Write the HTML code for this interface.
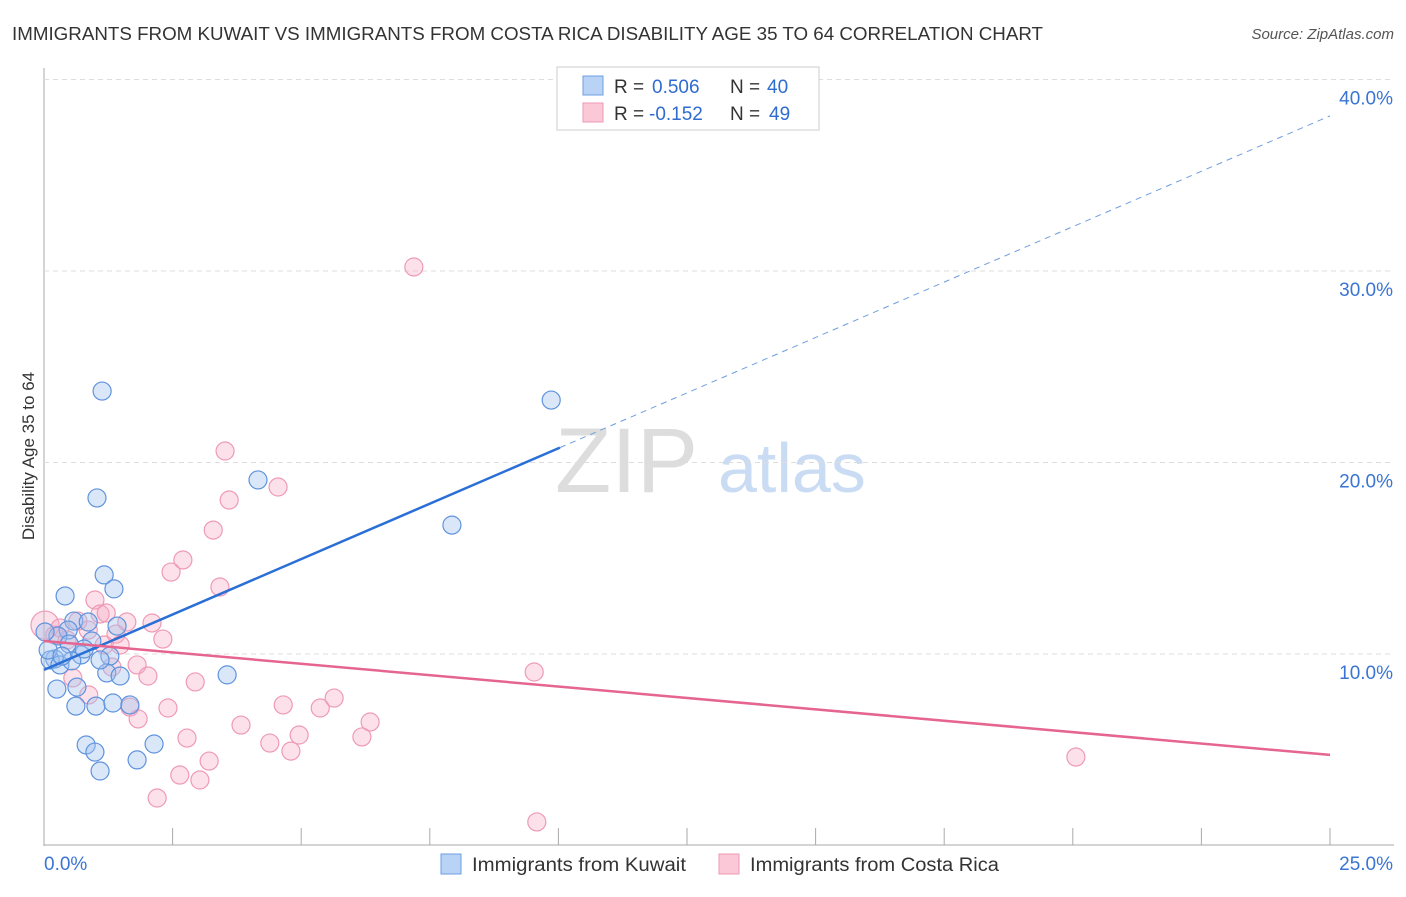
<!DOCTYPE html>
<html><head><meta charset="utf-8"><style>
body{margin:0;background:#fff;font-family:"Liberation Sans",sans-serif}
svg text{font-family:"Liberation Sans",sans-serif}
</style></head><body>
<svg id="c" width="1406" height="892">
<text x="12" y="40" font-size="18" fill="#333" textLength="1031" lengthAdjust="spacingAndGlyphs">IMMIGRANTS FROM KUWAIT VS IMMIGRANTS FROM COSTA RICA DISABILITY AGE 35 TO 64 CORRELATION CHART</text>
<text x="1394" y="39" font-size="15" fill="#555" font-style="italic" text-anchor="end">Source: ZipAtlas.com</text>
<text x="34" y="456" font-size="17" fill="#333" text-anchor="middle" transform="rotate(-90 34 456)">Disability Age 35 to 64</text>
<text x="555" y="492" font-size="92" fill="#ddd" font-family="Liberation Serif">ZIP</text>
<text x="718" y="492" font-size="70" fill="#c9dcf3">atlas</text>
<g id="grid"></g><g id="marks"></g>
<g>
<rect x="557" y="67" width="262" height="63" fill="#fff" stroke="#ccc"/>
<rect x="583" y="76" width="20" height="19" fill="#b8d3f5" stroke="#6d9fe0"/>
<rect x="583" y="103" width="20" height="19" fill="#fac8d7" stroke="#ef97b2"/>
<text y="93" font-size="19" fill="#333"><tspan x="614">R =</tspan><tspan x="652" fill="#2f6ccf">0.506</tspan><tspan x="730">N =</tspan><tspan x="767" fill="#2f6ccf">40</tspan></text>
<text y="120" font-size="19" fill="#333"><tspan x="614">R =</tspan><tspan x="649" fill="#2f6ccf">-0.152</tspan><tspan x="730">N =</tspan><tspan x="769" fill="#2f6ccf">49</tspan></text>
</g>
<g>
<rect x="441" y="854" width="20" height="20" fill="#b8d3f5" stroke="#6d9fe0"/>
<text x="472" y="871" font-size="19" fill="#333" textLength="214" lengthAdjust="spacingAndGlyphs">Immigrants from Kuwait</text>
<rect x="719" y="854" width="20" height="20" fill="#fac8d7" stroke="#ef97b2"/>
<text x="750" y="871" font-size="19" fill="#333" textLength="249" lengthAdjust="spacingAndGlyphs">Immigrants from Costa Rica</text>
</g>
</svg>
<script>
const yTicks=[10,20,30,40];
const xTickLabels=["0.0%","25.0%"];
const blueX=[1.13,1.03,4.16,9.86,7.93,1.17,1.36,0.41,3.56,0.58,0.86,1.42,0.47,0.27,0.49,0.93,1.28,0.72,0.21,0.12,0.31,0.54,1.22,1.48,0.25,0.64,0.62,1.01,1.34,1.67,0.82,0.99,1.09,1.81,2.14,0.02,0.78,0.08,0.35,1.09];
const blueY=[23.73,18.15,19.09,23.26,16.73,14.13,13.40,13.03,8.91,11.72,11.67,11.46,11.25,10.94,10.52,10.68,9.89,9.95,9.74,9.69,9.43,9.64,9.01,8.85,8.17,8.27,7.28,7.28,7.44,7.34,5.25,4.88,3.89,4.47,5.30,11.15,10.26,10.21,9.89,9.69];
const pinkX=[7.19,3.52,4.55,3.60,3.29,2.70,2.47,3.42,0.99,1.09,1.21,1.61,2.10,0.66,0.86,1.40,1.48,2.31,0.02,0.21,0.45,1.81,1.32,2.02,2.94,0.56,0.87,1.67,1.83,2.41,3.83,4.65,5.37,5.64,6.34,6.18,4.96,4.39,4.80,3.21,2.64,3.03,2.20,9.53,20.06,9.58,2.78,0.31,1.17];
const pinkY=[30.21,20.60,18.72,18.04,16.47,14.91,14.28,13.50,12.82,12.09,12.14,11.67,11.62,11.72,11.25,11.04,10.47,10.78,11.51,10.99,10.73,9.43,9.32,8.85,8.54,8.75,7.86,7.23,6.61,7.18,6.29,7.34,7.18,7.70,6.45,5.67,5.77,5.35,4.93,4.41,3.68,3.42,2.48,9.06,4.62,1.23,5.61,11.36,10.47];
const blueTrend=[9.17,38.1];
const pinkTrend=[10.68,4.73];
const X0=44,X1=1330,Y0=845.5,PX=19.15;
const sx=v=>X0+(v/25)*(X1-X0), sy=v=>Y0-v*PX;
const NS="http://www.w3.org/2000/svg";
function mk(t,a,p){const e=document.createElementNS(NS,t);for(const k in a)e.setAttribute(k,a[k]);p.appendChild(e);return e;}
const g=document.getElementById('grid'),m=document.getElementById('marks');
let ax=mk('line',{x1:44,y1:68,x2:44,y2:846,stroke:'#aaa'},g);


let bx=mk('line',{x1:44,y1:845,x2:1394,y2:845,stroke:'#aaa'},g);


for(let i=1;i<=10;i++){const x=X0+i*(X1-X0)/10;mk('line',{x1:x,y1:828,x2:x,y2:845,stroke:'#aaa'},g);}
yTicks.forEach(t=>{
 mk('line',{x1:44,y1:sy(t),x2:1394,y2:sy(t),stroke:'#ddd','stroke-dasharray':'5,4'},g);
 const tx=mk('text',{x:1393,y:sy(t)+25,'font-size':19,fill:'#3a74d4','text-anchor':'end'},g);
 tx.textContent=t.toFixed(1)+'%';
 
 
});
xTickLabels.forEach((l,i)=>{
 const tx=mk('text',{x:i?1393:44,y:870,'font-size':19,fill:'#3a74d4','text-anchor':i?'end':'start'},g);
 tx.textContent=l;
 
 
});
pinkX.forEach((x,i)=>{
 const c=mk('circle',{cx:sx(x),cy:sy(pinkY[i]),r:i==18?14:9,fill:'rgba(246,170,195,0.35)',stroke:'#ef9ab5','stroke-width':1.2},m);
 
 
});
blueX.forEach((x,i)=>{
 const c=mk('circle',{cx:sx(x),cy:sy(blueY[i]),r:9,fill:'rgba(160,195,240,0.4)',stroke:'#5f93dd','stroke-width':1.2},m);
 
 
});
const bAt=x=>blueTrend[0]+(blueTrend[1]-blueTrend[0])*x/25;
let l1=mk('line',{x1:sx(0),y1:sy(bAt(0)),x2:sx(10.03),y2:sy(bAt(10.03)),stroke:'#2a6fd6','stroke-width':2.5},m);


let l2=mk('line',{x1:sx(10.03),y1:sy(bAt(10.03)),x2:sx(25),y2:sy(bAt(25)),stroke:'#6f9de0','stroke-width':1,'stroke-dasharray':'6,5'},m);


let l3=mk('line',{x1:sx(0),y1:sy(pinkTrend[0]),x2:sx(25),y2:sy(pinkTrend[1]),stroke:'#e5658f','stroke-width':2.5},m);


</script>
</body></html>
